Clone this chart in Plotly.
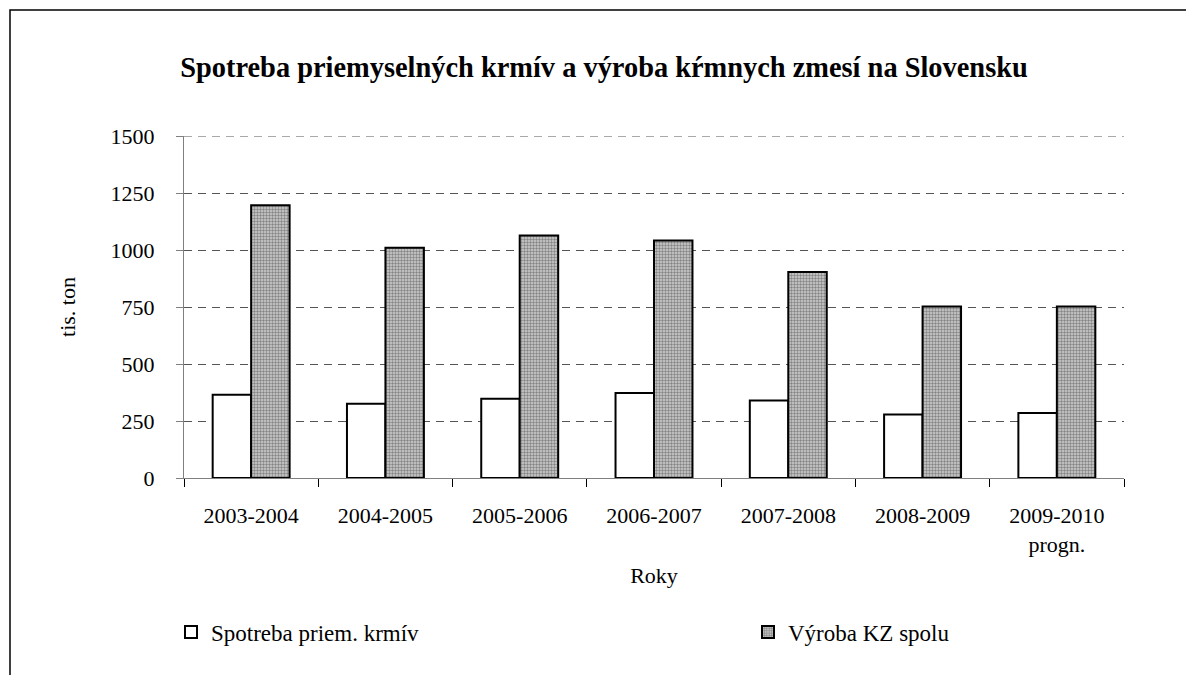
import plotly.graph_objects as go

categories = ["2003-2004", "2004-2005", "2005-2006", "2006-2007", "2007-2008", "2008-2009", "2009-2010<br>progn."]
spotreba = [365, 326, 348, 373, 340, 278, 285]
vyroba = [1196, 1010, 1064, 1042, 903, 752, 752]
yticks = [0, 250, 500, 750, 1000, 1250, 1500]

FONT = "Liberation Serif"

L, R, T, B = 184, 62, 136, 197
W, H = 1186, 675
PW, PH = W - L - R, H - T - B

def px_x(px):
    return (px - L) / PW

def px_y(py):
    return (H - B - py) / PH

fig = go.Figure()
fig.add_trace(go.Bar(
    x=categories, y=spotreba, name="Spotreba priem. krmív", legend="legend",
    marker=dict(color="white", line=dict(color="black", width=2)),
))
fig.add_trace(go.Bar(
    x=categories, y=vyroba, name="Výroba KZ spolu", legend="legend2",
    marker=dict(color="#a0a0a0", line=dict(color="black", width=2),
                pattern=dict(shape=".", size=3, solidity=0.5, fgcolor="#3a3a3a", bgcolor="#cfcfcf")),
))

legend_common = dict(orientation="h", xanchor="left", yanchor="middle",
                     xref="container", yref="container",
                     font=dict(family=FONT, size=23, color="black"),
                     bgcolor="rgba(0,0,0,0)")

GRID_COLOR = "#555555"
GRID_DASH = "8px,6px"

fig.update_layout(
    width=W, height=H,
    margin=dict(l=L, r=R, t=T, b=B, autoexpand=False),
    paper_bgcolor="white", plot_bgcolor="white",
    barmode="group", bargap=0.427, bargroupgap=0,
    font=dict(family=FONT, size=22, color="black"),
    title=dict(text="<b>Spotreba priemyselných krmív a výroba kŕmnych zmesí na Slovensku</b>",
               x=604 / W, xanchor="center", xref="container",
               y=1 - 67 / H, yanchor="middle", yref="container",
               font=dict(family=FONT, size=28.4, color="black")),
    legend=dict(x=171 / W, y=1 - 632 / H, **legend_common),
    legend2=dict(x=748 / W, y=1 - 632 / H, **legend_common),
    showlegend=True,
)
fig.update_xaxes(
    showline=True, linecolor="#808080", linewidth=1,
    ticks="outside", tickson="boundaries", ticklen=8, tickcolor="black",
    ticklabelstandoff=18,
    showgrid=False,
    title=dict(text="Roky", font=dict(family=FONT, size=22), standoff=11),
    tickfont=dict(family=FONT, size=22),
)
fig.update_yaxes(
    range=[yticks[0], yticks[-1]], tickvals=yticks, showline=True, linecolor="#808080", linewidth=1,
    ticks="outside", ticklen=7, tickcolor="#808080",
    ticklabelstandoff=17,
    showgrid=True, gridcolor=GRID_COLOR, griddash=GRID_DASH, gridwidth=1,
    zeroline=False,
    title=dict(text="tis. ton", font=dict(family=FONT, size=22), standoff=28),
    tickfont=dict(family=FONT, size=22),
)

# top gridline (plotly skips the gridline at the range edge)
fig.add_shape(type="line", xref="paper", yref="y", x0=0, x1=1, y0=yticks[-1], y1=yticks[-1],
              line=dict(color=GRID_COLOR, width=1, dash=GRID_DASH), layer="below")

# outer frame (top and left edges visible)
fig.add_shape(type="path", xref="paper", yref="paper",
              path="M {x0},{y0} L {x1},{y1} L {x2},{y2}".format(
                  x0=px_x(10), y0=px_y(H + 5),
                  x1=px_x(10), y1=px_y(10),
                  x2=px_x(W + 5), y2=px_y(10)),
              line=dict(color="black", width=1.5))

fig.write_html("out.html", config={"displayModeBar": False},
               post_script="document.body.style.margin='0';")
